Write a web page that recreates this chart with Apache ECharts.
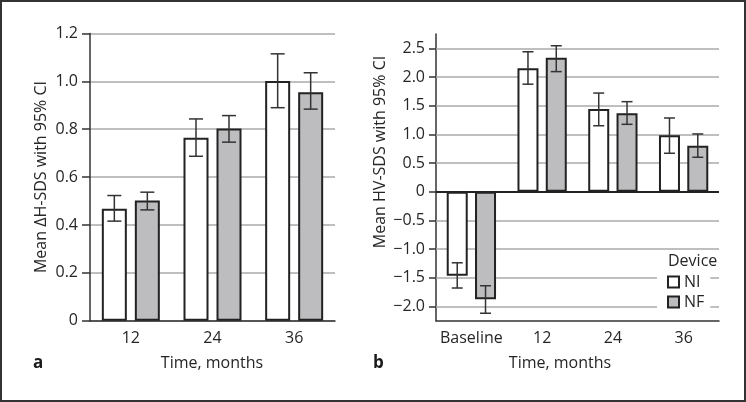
<!DOCTYPE html>
<html><head><meta charset="utf-8">
<script src="https://cdn.jsdelivr.net/npm/echarts@6/dist/echarts.min.js"></script>
<style>html,body{margin:0;padding:0;background:#fff}#c{width:746px;height:402px}</style>
</head><body><div id="c"></div>
<script>
// Panel a
const catA = ['12', '24', '36'];
const niA = [0.468, 0.764, 1.002];
const niALow = [0.416, 0.687, 0.890];
const niAHigh = [0.523, 0.843, 1.115];
const nfA = [0.502, 0.803, 0.955];
const nfALow = [0.463, 0.746, 0.884];
const nfAHigh = [0.537, 0.857, 1.036];

// Panel b
const catB = ['Baseline', '12', '24', '36'];
const niB = [-1.465, 2.153, 1.44, 0.983];
const niBLow = [-1.68, 1.875, 1.15, 0.67];
const niBHigh = [-1.24, 2.44, 1.72, 1.285];
const nfB = [-1.875, 2.337, 1.37, 0.80];
const nfBLow = [-2.12, 2.094, 1.175, 0.60];
const nfBHigh = [-1.64, 2.545, 1.57, 1.007];
const ticksB = [-2, -1.5, -1, -0.5, 0, 0.5, 1, 1.5, 2, 2.5];

const FONT = 'Open Sans';
const TXT = '#262626';
const GRIDC = '#aaa';
const GRAY = '#bdbdbf';

function fmt(v) {
  if (Math.abs(v) < 1e-9) return '0';
  return (v < 0 ? '\u2212' : '') + Math.abs(v).toFixed(1);
}

function errRender(offset, cap) {
  return function (params, api) {
    const i = api.value(0);
    const hi = api.coord([i, api.value(2)]);
    const lo = api.coord([i, api.value(1)]);
    const x = hi[0] + offset;
    const style = { stroke: '#333', lineWidth: 1.5 };
    return {
      type: 'group', children: [
        { type: 'line', shape: { x1: x, y1: hi[1], x2: x, y2: lo[1] }, style },
        { type: 'line', shape: { x1: x - cap, y1: hi[1], x2: x + cap, y2: hi[1] }, style },
        { type: 'line', shape: { x1: x - cap, y1: lo[1], x2: x + cap, y2: lo[1] }, style }
      ]
    };
  };
}

const bwA = 25, gapA = 8, bwB = 21, gapB = 7.3;
const offA = (bwA + gapA) / 2, offB = (bwB + gapB) / 2;

const axisLbl = { fontFamily: FONT, fontSize: 16, color: TXT };

const chart = echarts.init(document.getElementById('c'), null, { renderer: 'canvas' });
chart.setOption({
  animation: false,
  backgroundColor: '#fff',
  grid: [
    { left: 90, top: 33.5, width: 245, height: 287.2 },
    { left: 436, top: 34, width: 283, height: 286.7 }
  ],
  xAxis: [
    {
      type: 'category', data: catA, gridIndex: 0,
      axisLine: { lineStyle: { color: '#333', width: 1.5 } },
      axisTick: { alignWithLabel: true, length: 7, lineStyle: { color: '#333', width: 1.5 } },
      axisLabel: Object.assign({ margin: 10, interval: 0 }, axisLbl),
      splitLine: { show: false }
    },
    {
      type: 'category', data: catB, gridIndex: 1,
      axisLine: { onZero: false, lineStyle: { color: '#333', width: 1.5 } },
      axisTick: { alignWithLabel: true, interval: 0, length: 7, lineStyle: { color: '#333', width: 1.5 } },
      axisLabel: Object.assign({ margin: 10, interval: 0, hideOverlap: false }, axisLbl),
      splitLine: { show: false }
    }
  ],
  yAxis: [
    {
      type: 'value', gridIndex: 0, min: 0, max: 1.2, interval: 0.2,
      axisLine: { show: true, lineStyle: { color: '#333', width: 1.5 } },
      axisTick: { show: true, length: 8, lineStyle: { color: '#333', width: 1.5 } },
      axisLabel: Object.assign({ margin: 12, formatter: fmt }, axisLbl),
      splitLine: { show: true, lineStyle: { color: GRIDC, width: 1.5 } }
    },
    {
      type: 'value', gridIndex: 1, min: -2.25, max: 2.75,
      axisLine: { show: true, lineStyle: { color: '#333', width: 1.5 } },
      axisTick: { show: true, length: 7, customValues: ticksB, lineStyle: { color: '#333', width: 1.5 } },
      axisLabel: Object.assign({ margin: 11, formatter: fmt, customValues: ticksB }, axisLbl),
      splitLine: { show: false }
    }
  ],
  legend: {
    data: ['NI', 'NF'], orient: 'vertical', left: 657, top: 272,
    itemWidth: 11, itemHeight: 11, itemGap: 4, icon: 'rect',
    padding: [2, 6, 2, 10], backgroundColor: '#fff',
    textStyle: { fontFamily: FONT, fontSize: 16, color: TXT, lineHeight: 15 }
  },
  series: [
    {
      name: 'NI', type: 'bar', xAxisIndex: 0, yAxisIndex: 0, data: niA,
      barWidth: bwA, barGap: (gapA / bwA * 100) + '%',
      itemStyle: { color: '#fff', borderColor: '#222', borderWidth: 2 }
    },
    {
      name: 'NF', type: 'bar', xAxisIndex: 0, yAxisIndex: 0, data: nfA,
      barWidth: bwA, barGap: (gapA / bwA * 100) + '%',
      itemStyle: { color: GRAY, borderColor: '#222', borderWidth: 2 }
    },
    {
      name: 'NI', type: 'bar', xAxisIndex: 1, yAxisIndex: 1, data: niB,
      barWidth: bwB, barGap: (gapB / bwB * 100) + '%',
      itemStyle: { color: '#fff', borderColor: '#222', borderWidth: 2 },
      markLine: {
        z: 1, silent: true, symbol: ['none', 'none'], label: { show: false },
        lineStyle: { color: GRIDC, width: 1.5, type: 'solid' },
        data: ticksB.map(v => v === 0
          ? { yAxis: v, lineStyle: { color: '#222', width: 2, type: 'solid' } }
          : { yAxis: v })
      }
    },
    {
      name: 'NF', type: 'bar', xAxisIndex: 1, yAxisIndex: 1, data: nfB,
      barWidth: bwB, barGap: (gapB / bwB * 100) + '%',
      itemStyle: { color: GRAY, borderColor: '#222', borderWidth: 2 }
    },
    {
      type: 'custom', xAxisIndex: 0, yAxisIndex: 0, z: 3, silent: true,
      renderItem: errRender(-offA, 7), encode: { x: 0, y: [1, 2] },
      data: catA.map((c, i) => [i, niALow[i], niAHigh[i]])
    },
    {
      type: 'custom', xAxisIndex: 0, yAxisIndex: 0, z: 3, silent: true,
      renderItem: errRender(offA, 7), encode: { x: 0, y: [1, 2] },
      data: catA.map((c, i) => [i, nfALow[i], nfAHigh[i]])
    },
    {
      type: 'custom', xAxisIndex: 1, yAxisIndex: 1, z: 3, silent: true,
      renderItem: errRender(-offB, 5.5), encode: { x: 0, y: [1, 2] },
      data: catB.map((c, i) => [i, niBLow[i], niBHigh[i]])
    },
    {
      type: 'custom', xAxisIndex: 1, yAxisIndex: 1, z: 3, silent: true,
      renderItem: errRender(offB, 5.5), encode: { x: 0, y: [1, 2] },
      data: catB.map((c, i) => [i, nfBLow[i], nfBHigh[i]])
    }
  ],
  graphic: [
    { type: 'rect', silent: true, shape: { x: 1, y: 1, width: 744, height: 400 },
      style: { fill: 'none', stroke: '#333', lineWidth: 2 }, z: 10 },
    { type: 'text', x: 41, y: 177, rotation: Math.PI / 2,
      style: { text: 'Mean \u0394H-SDS with 95% CI', fill: TXT, font: '16px "Open Sans"', align: 'center', verticalAlign: 'middle' } },
    { type: 'text', x: 380, y: 152, rotation: Math.PI / 2,
      style: { text: 'Mean HV-SDS with 95% CI', fill: TXT, font: '16px "Open Sans"', align: 'center', verticalAlign: 'middle' } },
    { type: 'text', x: 212, y: 363,
      style: { text: 'Time, months', fill: TXT, font: '16px "Open Sans"', align: 'center', verticalAlign: 'middle' } },
    { type: 'text', x: 560, y: 363,
      style: { text: 'Time, months', fill: TXT, font: '16px "Open Sans"', align: 'center', verticalAlign: 'middle' } },
    { type: 'text', x: 33, y: 363,
      style: { text: 'a', fill: '#1a1a1a', font: 'bold 17px "Open Sans"', align: 'left', verticalAlign: 'middle' } },
    { type: 'text', x: 373, y: 363,
      style: { text: 'b', fill: '#1a1a1a', font: 'bold 17px "Open Sans"', align: 'left', verticalAlign: 'middle' } },
    { type: 'text', x: 668, y: 261, z: 10,
      style: { text: 'Device', fill: TXT, font: '16px "Open Sans"', align: 'left', verticalAlign: 'middle' } }
  ]
});
</script>
</body></html>
